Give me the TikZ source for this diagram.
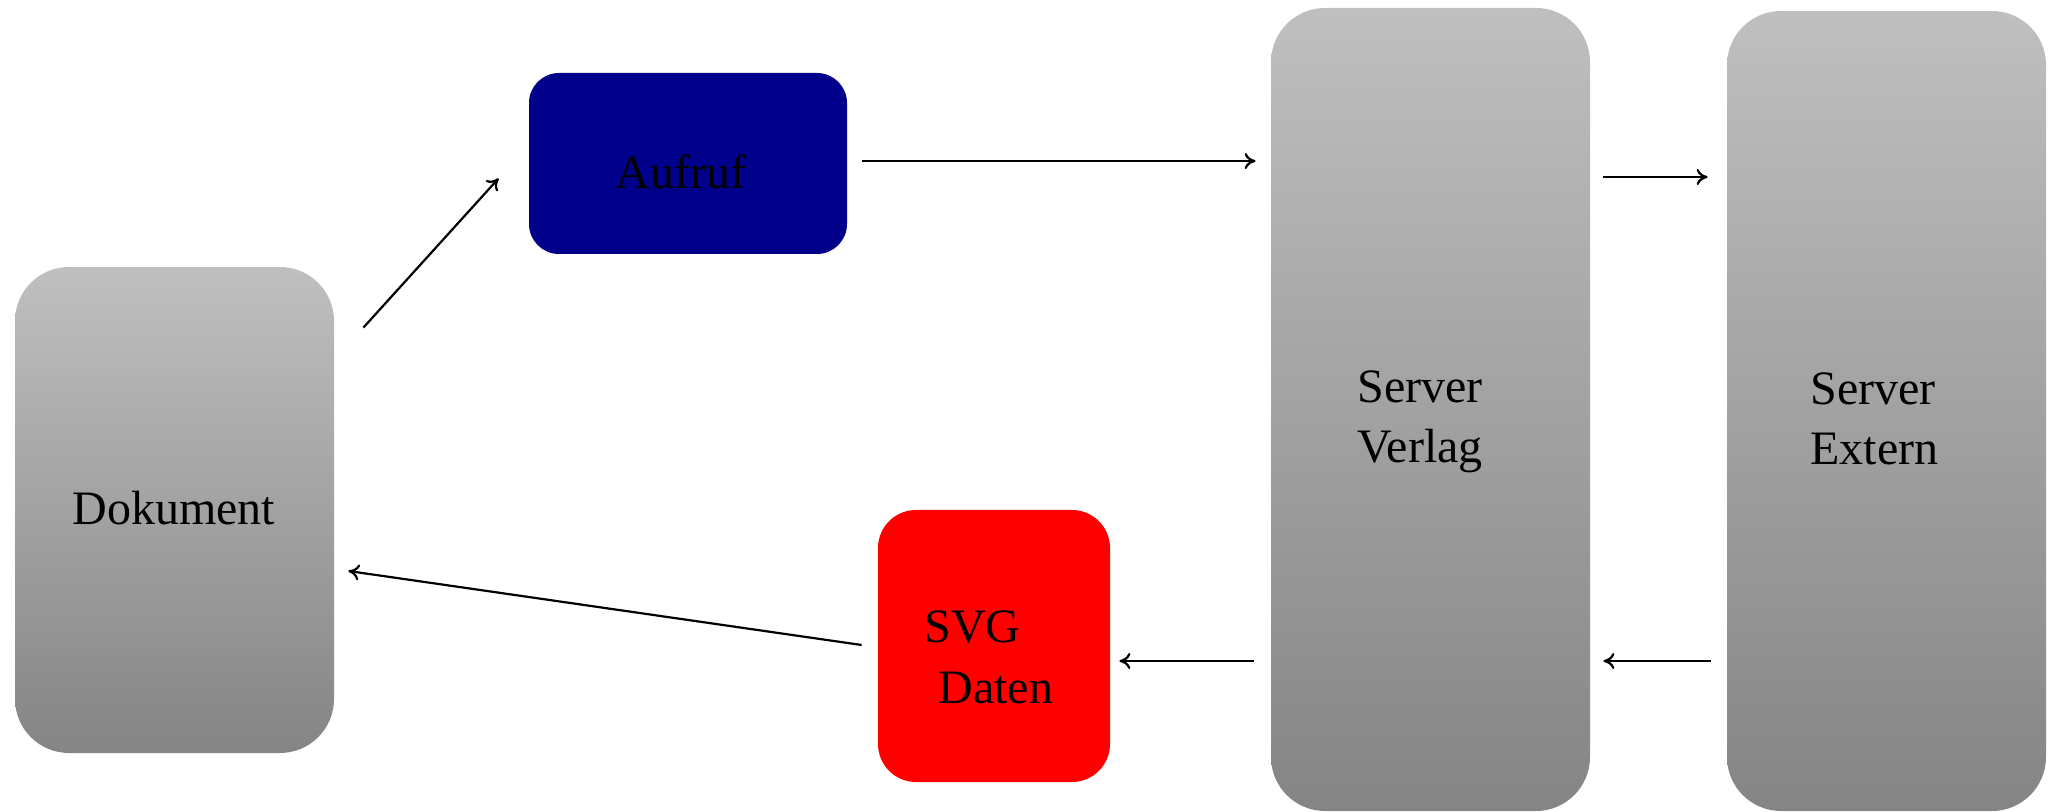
\documentclass[tikz,border=0pt]{standalone}
\usepackage{fontspec}
\setmainfont{Liberation Serif}
\usetikzlibrary{arrows.meta}
\definecolor{aufblue}{RGB}{0,0,139}
\definecolor{svgred}{RGB}{255,0,0}
\begin{document}
\begin{tikzpicture}[x=0.5pt,y=-0.5pt,
  boxbase/.style={rectangle, draw=none, inner sep=0pt},
  graybox/.style={boxbase, rounded corners=27pt, top color=black!25, bottom color=black!48},
  lbl/.style={font=\fontsize{24}{30}\selectfont, inner sep=0pt, text=black},
  arr/.style={-{To[length=5.5pt,width=8pt]}, line width=1.1pt}]
\useasboundingbox (0,0) rectangle (2057,812);
% boxes
\node[graybox, minimum width=159.5pt, minimum height=243pt] (dok) at (174.5,510) {};
\node[boxbase, fill=aufblue, rounded corners=15pt, minimum width=159pt, minimum height=90.5pt] (auf) at (688,163.5) {};
\node[boxbase, fill=svgred, rounded corners=19pt, minimum width=116pt, minimum height=136pt] (svg) at (994,646) {};
\node[graybox, minimum width=159.5pt, minimum height=401.5pt] (ver) at (1430.5,409.5) {};
\node[graybox, minimum width=159.5pt, minimum height=400pt] (ext) at (1886.5,411) {};
% labels
\node[lbl, anchor=base] (tdok) at (174,524) {Dokument};
\node[lbl, anchor=base] (tauf) at (681,189) {Aufruf};
\node[lbl, anchor=base west] (tsvg1) at (924,642) {SVG};
\node[lbl, anchor=base west] (tsvg2) at (938,703) {Daten};
\node[lbl, anchor=base west] (tver1) at (1357,403) {Server};
\node[lbl, anchor=base west] (tver2) at (1357,463) {Verlag};
\node[lbl, anchor=base west] (text1) at (1810,405) {Server};
\node[lbl, anchor=base west] (text2) at (1810,465) {Extern};
% connectors
\draw[arr] ([xshift=14.5pt,yshift=-30.5pt]dok.north east) -- ([xshift=-15pt,yshift=38pt]auf.south west);
\draw[arr, shorten >=7.5pt] ([xshift=7.5pt,yshift=1.25pt]auf.east) coordinate (a2) -- (a2 -| ver.west);
\draw[arr, shorten >=9.5pt] ([xshift=6.5pt,yshift=116.25pt]ver.east) coordinate (a3) -- (a3 -| ext.west);
\draw[arr, shorten >=6.5pt] ([xshift=-8pt,yshift=-125pt]ext.west) coordinate (a4) -- (a4 -| ver.east);
\draw[arr, shorten >=4.5pt] ([xshift=-8.5pt,yshift=-125.75pt]ver.west) coordinate (a5) -- (a5 -| svg.east);
\draw[arr] ([xshift=-8pt,yshift=0.5pt]svg.west) -- ([xshift=7pt,yshift=-30.5pt]dok.east);
\end{tikzpicture}
\end{document}
